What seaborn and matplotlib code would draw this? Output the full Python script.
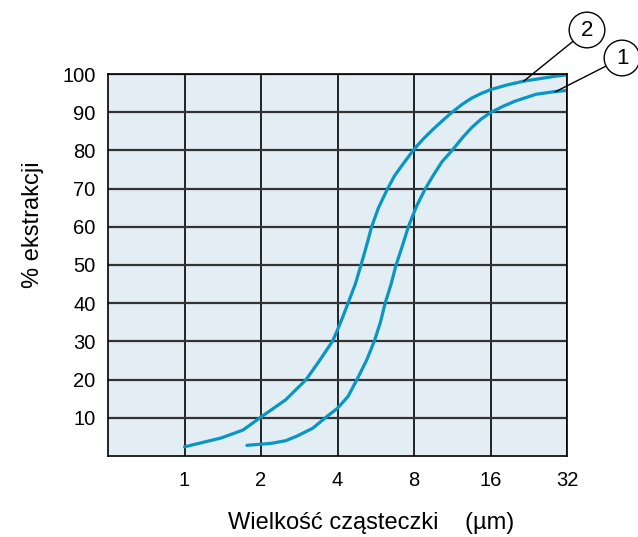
import numpy as np
import pandas as pd
import seaborn as sns
import matplotlib.pyplot as plt

# values
x_curve1 = [1.76, 2.19, 2.5, 2.79, 3.2, 3.58, 4.0, 4.4, 4.77, 5.2, 5.58, 5.9, 6.16,
            6.5, 6.8, 7.2, 7.6, 8.2, 8.87, 9.43, 10.3, 11.3, 12.4, 13.5, 14.7, 16,
            18, 20, 24.2, 28.7, 32]
y_curve1 = [2.8, 3.3, 4.0, 5.3, 7.3, 10, 12.5, 15.6, 20, 25, 30, 35, 40,
            45, 50, 55, 60, 65.5, 70, 73, 77, 80, 83.3, 86, 88.2, 89.9,
            91.6, 92.9, 94.7, 95.4, 95.7]

x_curve2 = [1.0, 1.39, 1.7, 2.0, 2.5, 3.01, 3.4, 3.82, 4.0, 4.2, 4.4, 4.7, 4.95,
            5.2, 5.45, 5.8, 6.3, 6.7, 7.16, 7.6, 8.0, 8.7, 9.5, 10.4, 11.3, 12.4,
            13.5, 14.7, 16, 18.5, 21.5, 24, 28, 32]
y_curve2 = [2.4, 4.7, 6.8, 10.2, 14.7, 20, 25, 30, 33, 36.5, 40, 45, 50,
            55, 60, 65, 70, 73.3, 76, 78.3, 80.3, 83, 85.5, 87.9, 90, 92.1,
            93.7, 94.9, 95.9, 97.1, 98.1, 98.6, 99.3, 99.8]

x_ticks = [1, 2, 4, 8, 16, 32]
x_tick_labels = ["1", "2", "4", "8", "16", "32"]
y_ticks = [10, 20, 30, 40, 50, 60, 70, 80, 90, 100]

curve_names = ["1", "2"]
label_points = {"2": (21.6, 98.1), "1": (28.7, 95.3)}
label_pixels = {"2": (587, 537 - 30), "1": (622, 537 - 58)}

df = pd.concat([
    pd.DataFrame({"x": x_curve1, "y": y_curve1, "krzywa": "1"}),
    pd.DataFrame({"x": x_curve2, "y": y_curve2, "krzywa": "2"}),
])

sns.set_theme(style="white")
plt.rcParams["font.family"] = ["Liberation Sans", "DejaVu Sans"]

blue = "#0896c6"
fig = plt.figure(figsize=(6.38, 5.37), dpi=100)
ax = fig.add_axes([108 / 638, 1 - 456 / 537, (567 - 108) / 638, (456 - 74) / 537])
ax.set_facecolor("#e2edf4")

sns.lineplot(data=df, x="x", y="y", hue="krzywa", palette=[blue, blue],
             linewidth=2.3, legend=False, ax=ax, sort=True)

ax.set_xscale("log", base=2)
ax.set_xlim(0.5, 32)
ax.set_ylim(0, 100)
ax.set_xticks(x_ticks)
ax.set_xticklabels(x_tick_labels)
ax.set_xticks([], minor=True)
ax.set_yticks(y_ticks)
ax.set_yticklabels([str(v) for v in y_ticks])
ax.tick_params(axis="x", length=0, pad=11, labelsize=14.5, colors="black")
ax.tick_params(axis="y", length=0, pad=9, labelsize=14.5, colors="black")

ax.grid(True, axis="x", color="black", linewidth=1.2)
ax.grid(True, axis="y", color="#333333", linewidth=1.6)
ax.set_axisbelow(True)
for s in ax.spines.values():
    s.set_visible(True)
    s.set_color("black")
    s.set_linewidth(1.2)

ax.set_xlabel("Wielkość cząsteczki    (µm)", fontsize=17, color="black")
ax.xaxis.set_label_coords(0.573, -0.147)
ax.set_ylabel("% ekstrakcji", fontsize=17, color="black")
ax.yaxis.set_label_coords(-0.14, 0.605)

for name in curve_names:
    ax.annotate(name, xy=label_points[name], xycoords="data",
                xytext=label_pixels[name], textcoords="figure pixels",
                ha="center", va="center", fontsize=16, color="black",
                bbox=dict(boxstyle="circle,pad=0.33", fc="white", ec="black", lw=1),
                arrowprops=dict(arrowstyle="-", color="black", lw=1,
                                shrinkA=0, shrinkB=0),
                annotation_clip=False)

fig.savefig("out.png", dpi=100)
